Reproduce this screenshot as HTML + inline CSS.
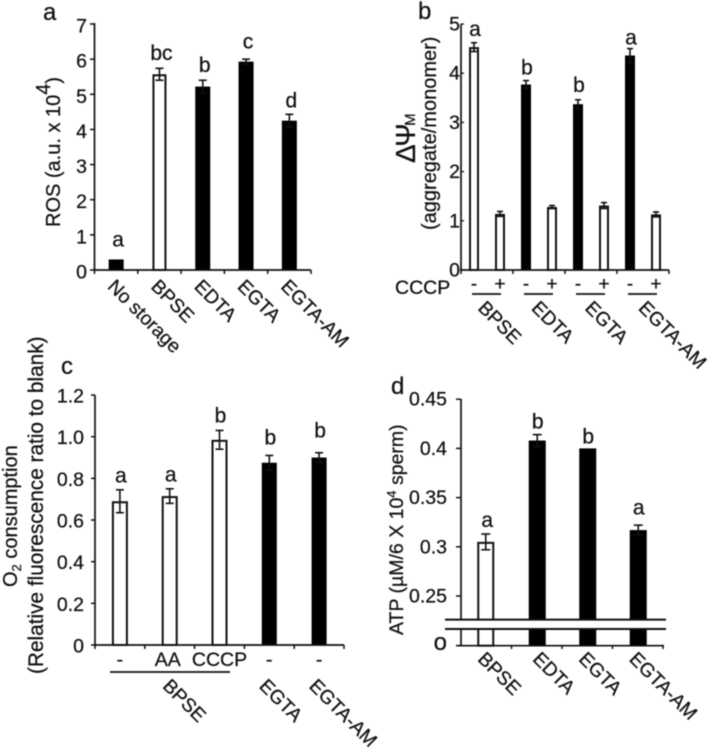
<!DOCTYPE html>
<html lang="en">
<head>
<meta charset="utf-8">
<title>Sperm storage bar charts</title>
<style>
html,body{margin:0;padding:0;background:#fff;width:711px;height:750px;overflow:hidden}
svg{display:block;position:absolute;left:0;top:0}
text{font-family:"Liberation Sans",sans-serif;fill:#111;stroke:#111;stroke-width:0.25px}
</style>
</head>
<body>
<svg id="figure" xmlns="http://www.w3.org/2000/svg" width="711" height="750" viewBox="0 0 711 750">
  <g id="root" style="filter:blur(0.4px)">
    <text x="43" y="20" font-size="24">a</text>
    <text x="418" y="19" font-size="24">b</text>
    <text x="61" y="374" font-size="24">c</text>
    <text x="391" y="394" font-size="24">d</text>

    <text transform="translate(60,227) rotate(-90)" font-size="20">ROS (a.u. x 10<tspan dy="-10">4</tspan><tspan dy="10">)</tspan></text>

    <text transform="translate(415,163) rotate(-90)" font-size="28" style="letter-spacing:-2.5px">ΔΨ<tspan font-size="15" dy="0" style="letter-spacing:0">M</tspan></text>
    <text transform="translate(436,230) rotate(-90)" font-size="20">(aggregate/monomer)</text>
    <text x="395" y="294" font-size="19.5">CCCP</text>

    <text transform="translate(17,587) rotate(-90)" font-size="20">O<tspan font-size="13" dy="4">2</tspan><tspan dy="-4"> consumption</tspan></text>
    <text transform="translate(43,674) rotate(-90)" font-size="20.8">(Relative fluorescence ratio to blank)</text>

    <text transform="translate(403,635) rotate(-90)" font-size="19.5">ATP (µM/6 X 10<tspan font-size="13" dy="-7">4</tspan><tspan dy="7"> sperm)</tspan></text>
  </g>
</svg>
<script>
// Panel a
const aCategories = ['No storage', 'BPSE', 'EDTA', 'EGTA', 'EGTA-AM'];
const aValues = [0.3, 5.57, 5.22, 5.93, 4.25];
const aErrors = [0, 0.17, 0.18, 0.07, 0.18];
const aOpenBars = ['BPSE'];
const aLetters = ['a', 'bc', 'b', 'c', 'd'];
const aLetterLifts = [0.37, 0.23, 0.23, 0.31, 0.2];
const aTicks = [0, 1, 2, 3, 4, 5, 6, 7];
const aTickLabels = ['0', '1', '2', '3', '4', '5', '6', '7'];

// Panel b
const bCategories = ['BPSE -', 'BPSE +', 'EDTA -', 'EDTA +', 'EGTA -', 'EGTA +', 'EGTA-AM -', 'EGTA-AM +'];
const bValues = [4.53, 1.14, 3.77, 1.28, 3.37, 1.31, 4.36, 1.13];
const bErrors = [0.09, 0.05, 0.08, 0.03, 0.09, 0.06, 0.14, 0.05];
const bOpenBars = ['BPSE -', 'BPSE +', 'EDTA +', 'EGTA +', 'EGTA-AM +'];
const bLetters = ['a', '', 'b', '', 'b', '', 'a', ''];
const bLetterLifts = [0.14, 0, 0.12, 0, 0.16, 0, 0.08, 0];
const bSigns = ['-', '+', '-', '+', '-', '+', '-', '+'];
const bGroups = ['BPSE', 'EDTA', 'EGTA', 'EGTA-AM'];
const bTicks = [0, 1, 2, 3, 4, 5];
const bTickLabels = ['0', '1', '2', '3', '4', '5'];

// Panel c
const cCategories = ['BPSE -', 'BPSE AA', 'BPSE CCCP', 'EGTA -', 'EGTA-AM -'];
const cTreatments = ['-', 'AA', 'CCCP', '-', '-'];
const cValues = [0.69, 0.715, 0.985, 0.875, 0.9];
const cErrors = [0.055, 0.035, 0.045, 0.035, 0.023];
const cOpenBars = ['BPSE -', 'BPSE AA', 'BPSE CCCP'];
const cLetters = ['a', 'a', 'b', 'b', 'b'];
const cLetterLifts = [0.034, 0.034, 0.038, 0.053, 0.072];
const cTicks = [0, 0.2, 0.4, 0.6, 0.8, 1.0, 1.2];
const cTickLabels = ['0', '0.2', '0.4', '0.6', '0.8', '1.0', '1.2'];
const cGroups = ['BPSE', 'EGTA', 'EGTA-AM'];

// Panel d
const dCategories = ['BPSE', 'EDTA', 'EGTA', 'EGTA-AM'];
const dValues = [0.305, 0.408, 0.4, 0.317];
const dErrors = [0.008, 0.006, 0, 0.005];
const dOpenBars = ['BPSE'];
const dLetters = ['a', 'b', 'b', 'a'];
const dLetterLifts = [0.007, 0.006, 0.005, 0.011];
const dTicks = [0.25, 0.3, 0.35, 0.4, 0.45];
const dTickLabels = ['0.25', '0.3', '0.35', '0.4', '0.45'];

const root = document.getElementById('root');
const NS = 'http://www.w3.org/2000/svg';

function make(tag, attrs, content) {
  const node = document.createElementNS(NS, tag);
  for (const k in attrs) node.setAttribute(k, attrs[k]);
  if (content !== undefined) node.textContent = content;
  root.appendChild(node);
  return node;
}

function line(x1, y1, x2, y2, w, name) {
  const el = make('line', {x1: x1, y1: y1, x2: x2, y2: y2, stroke: '#111', 'stroke-width': w});
  
  
  return el;
}

function label(x, y, size, anchor, str, name) {
  const el = make('text', {x: x, y: y, 'font-size': size, 'text-anchor': anchor}, str);
  
  
  return el;
}

function slanted(x, y, str, name) {
  const el = make('text', {transform: 'translate(' + x + ',' + y + ') rotate(45)', 'font-size': 19.3}, str);
  
  
  return el;
}

function drawBar(cx, top, base, openW, solidW, open, name) {
  const w = open ? openW : solidW;
  const inset = open ? 1 : 0;
  const el = make('rect', {
    x: cx - w / 2 + inset,
    y: top + inset,
    width: w - 2 * inset,
    height: Math.max(0, base - top - inset),
    fill: open ? '#fff' : '#000',
    stroke: open ? '#111' : 'none',
    'stroke-width': open ? 2 : 0
  });
  
  
}

function drawError(cx, yHigh, yLow, cap, name) {
  if (yLow - yHigh < 0.5) return;
  line(cx, yHigh, cx, yLow, 1.6, name + '-stem');
  line(cx - cap / 2, yHigh, cx + cap / 2, yHigh, 1.6, name + '-cap-top');
  line(cx - cap / 2, yLow, cx + cap / 2, yLow, 1.6, name + '-cap-bottom');
}

/* ---------- Panel a ---------- */
const aX = i => 94.5 + (i + 0.5) * 43.3;
const aY = v => 270 - v * 35.14;
aCategories.forEach((cat, i) => {
  const open = aOpenBars.includes(cat);
  drawBar(aX(i), aY(aValues[i]), aY(0), 14, 15, open, 'bar-a-' + i);
  if (aErrors[i] > 0) drawError(aX(i), aY(aValues[i] + aErrors[i]), aY(aValues[i] - aErrors[i]), 8, 'error-bar-a-' + i);
  label(aX(i) + 2, aY(aValues[i] + aErrors[i] + aLetterLifts[i]), 21, 'middle', aLetters[i], 'significance-a-' + i);
  slanted(aX(i) - 9.5, 287.5, cat, 'x-label-a-' + i);
});
line(94.5, 23, 94.5, 271, 1.7, 'y-axis-a');
line(94, 270, 311, 270, 1.7, 'x-axis-a');
aTicks.forEach((t, i) => {
  line(90, aY(t), 94.5, aY(t), 1.5, 'y-tick-a-' + i);
  label(87, aY(t) + 8.5, 19.5, 'end', aTickLabels[i], 'y-tick-label-a-' + i);
});
for (let i = 0; i <= aCategories.length; i++) {
  line(94.5 + i * 43.3, 270, 94.5 + i * 43.3, 274, 1.5, 'x-tick-a-' + i);
}

/* ---------- Panel b ---------- */
const bX = i => 461 + (i + 0.5) * 26;
const bY = v => 270 - v * 49.2;
bCategories.forEach((cat, i) => {
  const open = bOpenBars.includes(cat);
  drawBar(bX(i), bY(bValues[i]), bY(0), 10, 10, open, 'bar-b-' + i);
  drawError(bX(i), bY(bValues[i] + bErrors[i]), bY(bValues[i] - bErrors[i]), 6, 'error-bar-b-' + i);
  if (bLetters[i]) {
    label(bX(i) + 1, bY(bValues[i] + bErrors[i] + bLetterLifts[i]), 21, 'middle', bLetters[i], 'significance-b-' + i);
  }
  label(bX(i), 290, 19.5, 'middle', bSigns[i], 'cccp-sign-' + i);
});
bGroups.forEach((g, i) => {
  const cx = bX(i * 2);
  line(cx - 2, 294, cx + 27, 294, 1.8, 'group-line-b-' + i);
  slanted(477 + i * 53.5, 309, g, 'x-label-b-' + i);
});
line(461, 24, 461, 271, 1.7, 'y-axis-b');
line(460, 270, 669, 270, 1.7, 'x-axis-b');
bTicks.forEach((t, i) => {
  line(461, bY(t), 464, bY(t), 1.3, 'y-tick-b-' + i);
  label(460, bY(t) + 6.5, 19.5, 'end', bTickLabels[i], 'y-tick-label-b-' + i);
});
for (let i = 0; i <= bGroups.length; i++) {
  line(461 + i * 52, 270, 461 + i * 52, 274, 1.5, 'x-tick-b-' + i);
}

/* ---------- Panel c ---------- */
const cX = i => 95 + (i + 0.5) * 49.8;
const cY = v => 645 - v * 208.3;
cCategories.forEach((cat, i) => {
  const open = cOpenBars.includes(cat);
  drawBar(cX(i), cY(cValues[i]), cY(0), 16, 15, open, 'bar-c-' + i);
  drawError(cX(i), cY(cValues[i] + cErrors[i]), cY(cValues[i] - cErrors[i]), 8, 'error-bar-c-' + i);
  label(cX(i) + 1, cY(cValues[i] + cErrors[i] + cLetterLifts[i]), 21, 'middle', cLetters[i], 'significance-c-' + i);
  label(cX(i) - (i === 1 ? 2 : 0), 666, 19.5, 'middle', cTreatments[i], 'treatment-label-' + i);
});
line(110, 672, 230, 672, 1.8, 'group-line-c');
cGroups.forEach((g, i) => {
  const anchorIdx = i === 0 ? 1 : i + 2;
  slanted(cX(anchorIdx) + (i === 0 ? -8 : -11), 687, g, 'x-label-c-' + i);
});
line(95, 395, 95, 646, 1.7, 'y-axis-c');
line(94, 645, 344, 645, 1.7, 'x-axis-c');
cTicks.forEach((t, i) => {
  line(91, cY(t), 95, cY(t), 1.5, 'y-tick-c-' + i);
  label(84, cY(t) + 7.5, 19.5, 'end', cTickLabels[i], 'y-tick-label-c-' + i);
});
for (let i = 0; i <= cCategories.length; i++) {
  line(95 + i * 49.8, 645, 95 + i * 49.8, 649, 1.5, 'x-tick-c-' + i);
}

/* ---------- Panel d ---------- */
const dX = i => 461 + (i + 0.5) * 50.5;
const dY = v => 596 - (v - 0.25) * 984;
const dBase = 645.7;
dCategories.forEach((cat, i) => {
  const open = dOpenBars.includes(cat);
  drawBar(dX(i) + (i === 0 ? -0.5 : 0.5), dY(dValues[i]), dBase, 17, 17, open, 'bar-d-' + i);
  drawError(dX(i) + (i === 0 ? -0.5 : 0.5), dY(dValues[i] + dErrors[i]), dY(dValues[i] - dErrors[i]), 9, 'error-bar-d-' + i);
  label(dX(i) + 1, dY(dValues[i] + dErrors[i] + dLetterLifts[i]), 21, 'middle', dLetters[i], 'significance-d-' + i);
  slanted(dX(i) - (i === 1 ? 5 : 9.5), 660, cat, 'x-label-d-' + i);
});
line(461, 399, 461, 646, 1.7, 'y-axis-d');
line(456, 645.7, 664, 645.7, 1.7, 'x-axis-d');
dTicks.forEach((t, i) => {
  line(456, dY(t), 461, dY(t), 1.5, 'y-tick-d-' + i);
  label(447, dY(t) + 6.5, 19.5, 'end', dTickLabels[i], 'y-tick-label-d-' + i);
});
label(447, 650, 24, 'end', 'o', 'y-tick-label-d-zero');
line(456, 645.7, 461, 645.7, 1.5, 'y-tick-d-zero');
for (let i = 1; i <= dCategories.length; i++) {
  line(461 + i * 50.5, 645.7, 461 + i * 50.5, 649, 1.5, 'x-tick-d-' + i);
}
const axisBreak = make('rect', {x: 445, y: 620, width: 221, height: 9, fill: '#fff'});


line(445, 619.6, 666, 619.6, 2, 'axis-break-top');
line(445, 629, 666, 629, 2, 'axis-break-bottom');
</script>
</body>
</html>
